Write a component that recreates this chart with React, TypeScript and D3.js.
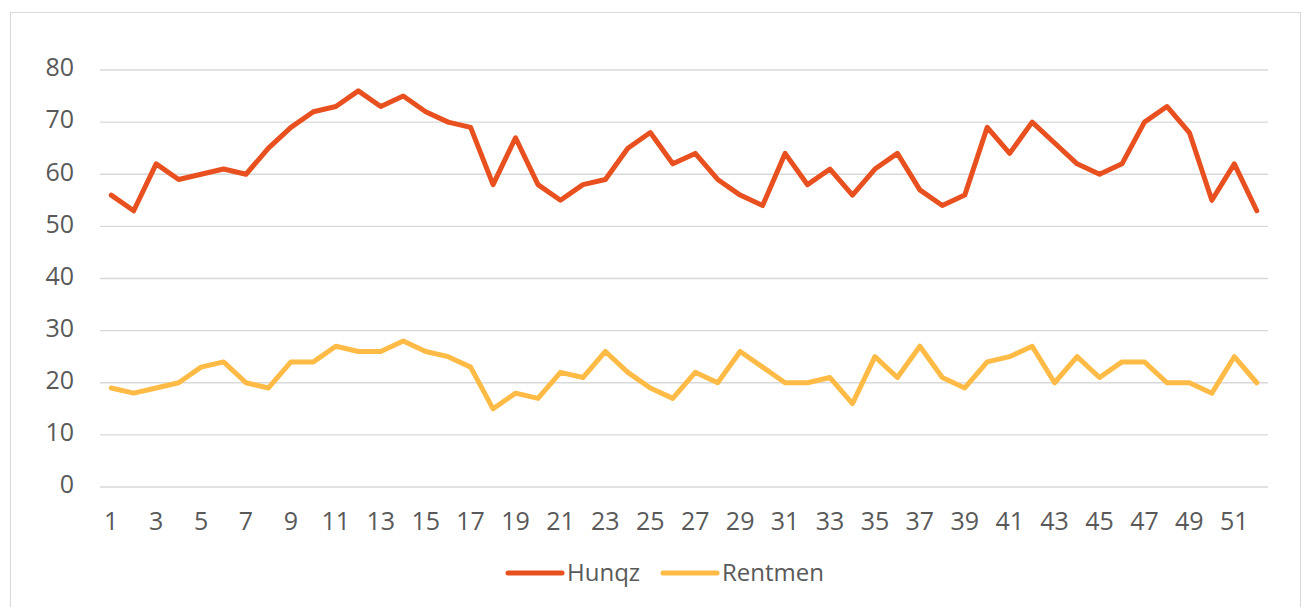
import React, { useEffect, useRef } from 'react';
import * as d3 from 'd3';

const weeks = d3.range(1, 53).map(String);
const hunqz = [56, 53, 62, 59, 60, 61, 60, 65, 69, 72, 73, 76, 73, 75, 72, 70, 69, 58, 67, 58, 55, 58, 59, 65, 68, 62, 64, 59, 56, 54, 64, 58, 61, 56, 61, 64, 57, 54, 56, 69, 64, 70, 66, 62, 60, 62, 70, 73, 68, 55, 62, 53];
const rentmen = [19, 18, 19, 20, 23, 24, 20, 19, 24, 24, 27, 26, 26, 28, 26, 25, 23, 15, 18, 17, 22, 21, 26, 22, 19, 17, 22, 20, 26, 23, 20, 20, 21, 16, 25, 21, 27, 21, 19, 24, 25, 27, 20, 25, 21, 24, 24, 20, 20, 18, 25, 20];
const yTicks = [0, 10, 20, 30, 40, 50, 60, 70, 80];
const seriesNames = ['Hunqz', 'Rentmen'];
const colors = ['#E8501F', '#FFBB45'];

export default function App() {
  const ref = useRef<SVGSVGElement>(null);

  useEffect(() => {
    const svg = d3.select(ref.current);
    svg.selectAll('*').remove();
    const font = '"Open Sans", Roboto, sans-serif';

    svg.append('rect')
      .attr('x', 10.5).attr('y', 12.5)
      .attr('width', 1290).attr('height', 600)
      .attr('fill', '#fff').attr('stroke', '#d9d9d9');

    const x = d3.scaleBand().domain(weeks).range([100, 1268]);
    const y = d3.scaleLinear().domain([0, 80]).range([487, 70]);
    const cx = (d: string) => (x(d) as number) + x.bandwidth() / 2;

    // gridlines
    svg.append('g').selectAll('line').data(yTicks).enter().append('line')
      .attr('x1', 100).attr('x2', 1268)
      .attr('y1', d => y(d)).attr('y2', d => y(d))
      .attr('stroke', '#d9d9d9').attr('stroke-width', 1.3);

    svg.append('g').selectAll('text').data(yTicks).enter().append('text')
      .attr('x', 74).attr('y', d => y(d) - 2.5)
      .attr('dy', '0.35em')
      .attr('text-anchor', 'end')
      .attr('font-family', font).attr('font-size', 25)
      .attr('fill', '#595959')
      .text(d => d);

    svg.append('g').selectAll('text').data(weeks.filter((d, i) => i % 2 === 0)).enter().append('text')
      .attr('x', d => cx(d)).attr('y', 521)
      .attr('dy', '0.35em')
      .attr('text-anchor', 'middle')
      .attr('font-family', font).attr('font-size', 25)
      .attr('fill', '#595959')
      .text(d => d);

    const line = d3.line<number>()
      .x((d, i) => cx(weeks[i]))
      .y(d => y(d));

    [hunqz, rentmen].forEach((data, k) => {
      svg.append('path')
        .datum(data)
        .attr('d', line)
        .attr('fill', 'none')
        .attr('stroke', colors[k])
        .attr('stroke-width', 5)
        .attr('stroke-linejoin', 'round')
        .attr('stroke-linecap', 'round');
    });

    const legendX = [508, 663];
    seriesNames.forEach((name, k) => {
      const g = svg.append('g').attr('transform', `translate(${legendX[k]},573)`);
      g.append('line')
        .attr('x1', 0).attr('x2', 54).attr('y1', 0).attr('y2', 0)
        .attr('stroke', colors[k]).attr('stroke-width', 5)
        .attr('stroke-linecap', 'round');
      g.append('text')
        .attr('x', 59).attr('y', 0).attr('dy', '0.35em')
        .attr('font-family', font).attr('font-size', 24)
        .attr('fill', '#595959')
        .text(name);
    });
  }, []);

  return (
    <svg ref={ref} width={1303} height={607} style={{ position: 'absolute', left: 0, top: 0 }}></svg>
  );
}
